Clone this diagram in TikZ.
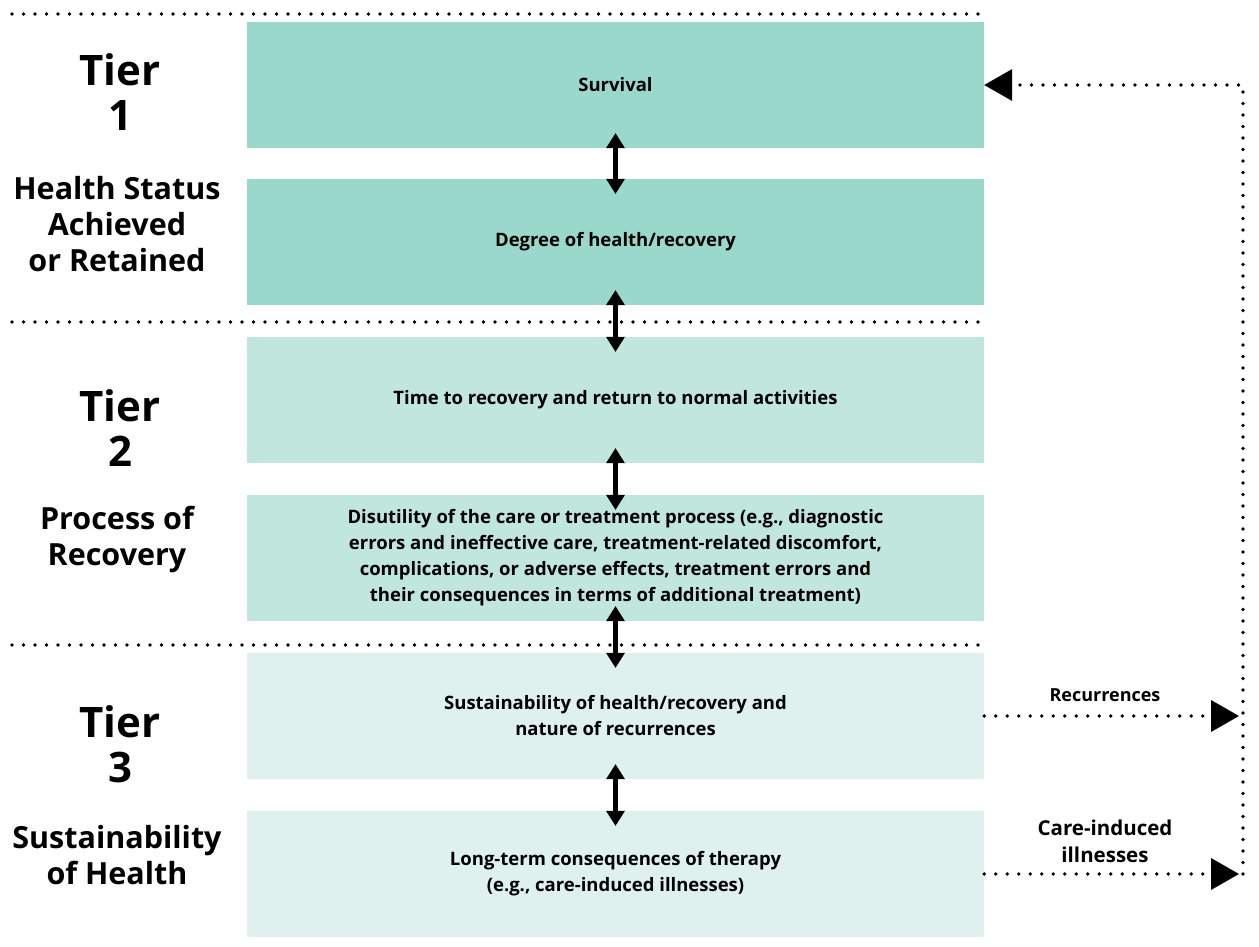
\documentclass[tikz,border=0pt]{standalone}
\usepackage{fontspec}
\setmainfont{Open Sans}
\usetikzlibrary{arrows.meta}
\definecolor{tA}{HTML}{9AD8CC}
\definecolor{tB}{HTML}{C0E6DE}
\definecolor{tC}{HTML}{DFF1EE}
\begin{document}
\begin{tikzpicture}[x=1pt,y=-1pt,
  box/.style={minimum width=737pt, minimum height=126pt, inner sep=0pt, align=center, font=\bfseries\fontsize{18.5}{26}\selectfont},
  tier/.style={font=\bfseries\fontsize{42}{45}\selectfont, align=center, inner sep=0pt},
  sub/.style={font=\bfseries\fontsize{30.5}{36}\selectfont, align=center, inner sep=0pt},
  laba/.style={font=\bfseries\fontsize{18}{27}\selectfont, align=center, inner sep=0pt},
  labb/.style={font=\bfseries\fontsize{20.5}{27}\selectfont, align=center, inner sep=0pt},
  dots/.style={line width=3.6pt, line cap=round, dash pattern=on 0pt off 11.5pt},
  bigtip/.style={-{Triangle[width=32pt,length=28pt,line width=0pt]}},
  dbl/.style={line width=4.5pt, {Triangle[width=19pt,length=15pt,line width=0pt]}-{Triangle[width=19pt,length=15pt,line width=0pt]}}]
\useasboundingbox (0,0) rectangle (1259,947);
% boxes
\node[box, fill=tA] (b1) at (615.5,85) {Survival};
\node[box, fill=tA] (b2) at (615.5,242) {Degree of health/recovery};
\node[box, fill=tB] (b3) at (615.5,400) {Time to recovery and return to normal activities};
\node[box, fill=tB] (b4) at (615.5,558) {Disutility of the care or treatment process (e.g., diagnostic\\ errors and ineffective care, treatment-related discomfort,\\ complications, or adverse effects, treatment errors and\\ their consequences in terms of additional treatment)};
\node[box, fill=tC] (b5) at (615.5,716) {Sustainability of health/recovery and\\ nature of recurrences};
\node[box, fill=tC] (b6) at (615.5,874) {Long-term consequences of therapy\\ (e.g., care-induced illnesses)};
% dotted separators
\draw[dots] (12,14) -- (984,14);
\draw[dots] (12,322) -- (984,322);
\draw[dots] (12,645) -- (984,645);
% tier labels
\node[tier] (t1) at (120,92) {Tier\\1};
\node[sub] (s1) at (117,224) {Health Status\\Achieved\\or Retained};
\node[tier] (t2) at (120,428) {Tier\\2};
\node[sub] (s2) at (117,539) {Process of\\Recovery};
\node[tier] (t3) at (120,744) {Tier\\3};
\node[sub] (s3) at (117,855) {Sustainability\\of Health};
% double arrows
\draw[dbl] ([yshift=15pt]b1.south) -- ([yshift=-15pt]b2.north);
\draw[dbl] ([yshift=15pt]b2.south) -- ([yshift=-15pt]b3.north);
\draw[dbl] ([yshift=15pt]b3.south) -- ([yshift=-15pt]b4.north);
\draw[dbl] ([yshift=15pt]b4.south) -- ([yshift=-15pt]b5.north);
\draw[dbl] ([yshift=15pt]b5.south) -- ([yshift=-15pt]b6.north);
% feedback loop
\coordinate (rt) at (1243,85);
\coordinate (rb) at (1243,874);
\coordinate (a5) at (1239,716);
\coordinate (a6) at (1239,874);
\draw[dots, bigtip] (b5.east) -- (a5);
\draw[dots, bigtip] (b6.east) -- (a6);
\draw[dots, bigtip] (rb) -- (rt) -- (b1.east);
\node[laba] (l1) at (1105,695) {Recurrences};
\node[labb] (l2) at (1105,841) {Care-induced\\illnesses};
\end{tikzpicture}
\end{document}
